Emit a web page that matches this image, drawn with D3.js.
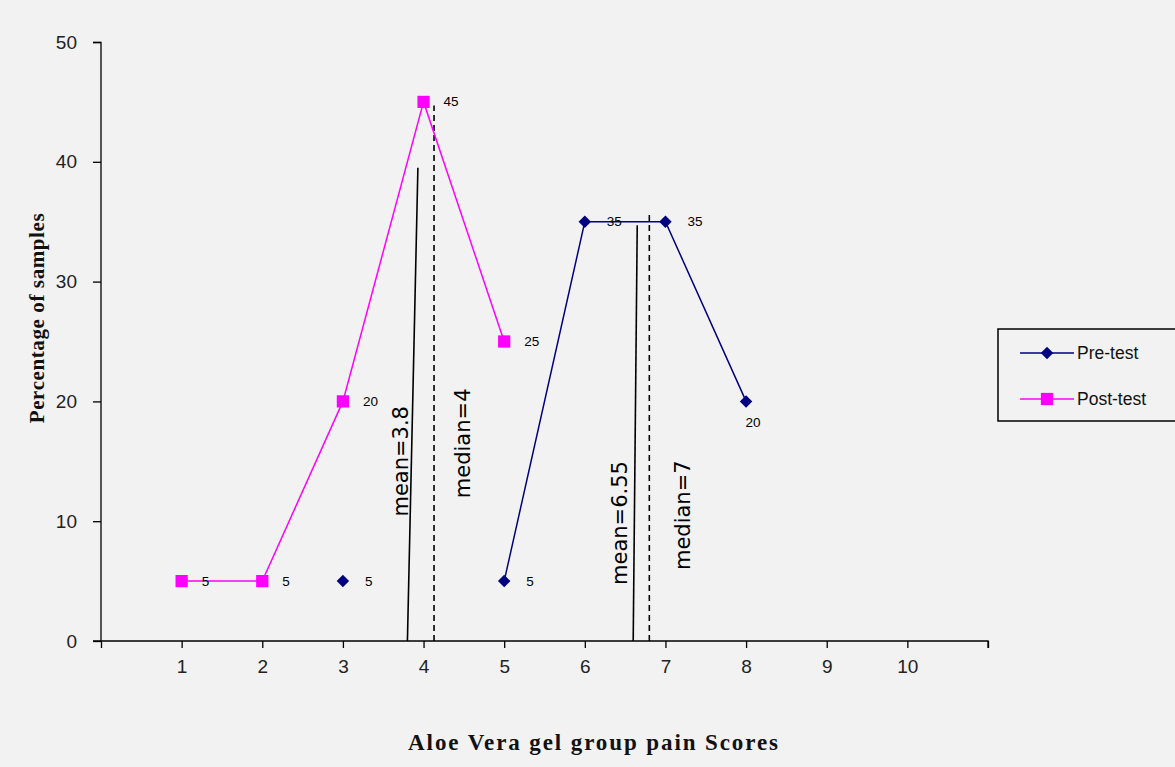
<!DOCTYPE html>
<html><head><meta charset="utf-8">
<script src="https://cdn.jsdelivr.net/npm/d3@7"></script>
<style>
html,body{margin:0;padding:0;background:#f2f2f2;}
svg{display:block;}
</style></head>
<body>
<svg id="c" width="1175" height="767"></svg>
<script>
// ---- data ----
const categories = [1,2,3,4,5,6,7,8,9,10];
const preTestX = [3,4,5,6,7,8];
const preTestY = [5,null,5,35,35,20];
const postTestX = [1,2,3,4,5];
const postTestY = [5,5,20,45,25];
const yTicks = [0,10,20,30,40,50];
const seriesNames = ["Pre-test","Post-test"];
const statLabels = ["mean=3.8","median=4","mean=6.55","median=7"];
const statBottomX = [3.8,4.13,6.6,6.8];
const statTopX = [3.93,4.13,6.65,6.8];
const statTopY = [39.5,44.7,34.7,35.7];
const statLabelX = [3.72,4.49,6.44,7.22];
const statLabelY = [15,16.5,9.85,10.5];
const xTitle = "Aloe Vera gel group pain Scores";
const yTitle = "Percentage of samples";

const svg = d3.select("#c");
svg.append("rect").attr("width",1175).attr("height",767).attr("fill","#f2f2f2");

const x = d3.scaleLinear().domain([0,11]).range([101,988]);
const y = d3.scaleLinear().domain([0,50]).range([641,42]);

// y axis
const ya = svg.append("g").attr("transform","translate(101,0)")
  .call(d3.axisLeft(y).tickValues(yTicks).tickSize(8).tickPadding(16));
ya.select(".domain").attr("stroke","#000").attr("stroke-width",1.3).attr("d","M-8,42.5H0V641");
ya.selectAll(".tick line").attr("stroke","#000").attr("stroke-width",1.3);
ya.selectAll(".tick text").attr("font-family","Liberation Sans, Arial, sans-serif").attr("font-size",19).attr("fill","#222");

// x axis
const xa = svg.append("g").attr("transform","translate(0,641)")
  .call(d3.axisBottom(x).tickValues(d3.range(0,12)).tickSize(7).tickPadding(12)
    .tickFormat(d => categories.includes(d) ? d : ""));
xa.select(".domain").attr("stroke","#000").attr("stroke-width",1.3).attr("d","M93,0H988V7");
xa.selectAll(".tick line").attr("stroke","#000").attr("stroke-width",1.3);
xa.selectAll(".tick text").attr("font-family","Liberation Sans, Arial, sans-serif").attr("font-size",19).attr("fill","#222");

// stat lines
statLabels.forEach((lab,i) => {
  const dashed = lab.startsWith("median");
  svg.append("line")
    .attr("x1",x(statBottomX[i])).attr("y1",y(0)).attr("x2",x(statTopX[i])).attr("y2",y(statTopY[i]))
    .attr("stroke", "#000").attr("stroke-width",1.6)
    .attr("stroke-dasharray", dashed ? "6,4" : null);
  svg.append("text")
    .attr("transform",`translate(${x(statLabelX[i])},${y(statLabelY[i])}) rotate(-90)`)
    .attr("text-anchor","middle").attr("dominant-baseline","central")
    .attr("font-family","DejaVu Sans, Verdana, sans-serif").attr("font-size",21).attr("fill","#000")
    .text(lab);
});

// series lines
const pre = preTestX.map((d,i)=>({x:d,y:preTestY[i]}));
const post = postTestX.map((d,i)=>({x:d,y:postTestY[i]}));
const line = d3.line().defined(d=>d.y!==null).x(d=>x(d.x)).y(d=>y(d.y));
svg.append("path").datum(post).attr("d",line).attr("fill","none").attr("stroke","#ff00ff").attr("stroke-width",1.5);
svg.append("path").datum(pre).attr("d",line).attr("fill","none").attr("stroke","#000080").attr("stroke-width",1.5);

const sq = d3.symbol().type(d3.symbolSquare).size(150);
const dm = d3.symbol().type(d3.symbolSquare).size(78);
svg.selectAll(".postm").data(post).join("path")
  .attr("transform",d=>`translate(${x(d.x)},${y(d.y)})`).attr("d",sq).attr("fill","#ff00ff");
svg.selectAll(".prem").data(pre.filter(d=>d.y!==null)).join("path")
  .attr("transform",d=>`translate(${x(d.x)},${y(d.y)}) rotate(45)`).attr("d",dm).attr("fill","#000080");

// data labels
const lblFont = "Liberation Sans, Arial, sans-serif";
post.forEach(d=>{
  svg.append("text").attr("x",x(d.x)+20).attr("y",y(d.y)).attr("dominant-baseline","central")
    .attr("font-family",lblFont).attr("font-size",13.5).attr("fill","#000").text(d.y);
});
pre.filter(d=>d.y!==null).forEach((d,i,arr)=>{
  const last = i===arr.length-1;
  svg.append("text").attr("x",last? x(d.x)+7 : x(d.x)+22).attr("y",last? y(d.y)+21 : y(d.y))
    .attr("text-anchor", last? "middle":"start")
    .attr("dominant-baseline","central")
    .attr("font-family",lblFont).attr("font-size",13.5).attr("fill","#000").text(d.y);
});

// titles
svg.append("text").attr("x",594).attr("y",750).attr("text-anchor","middle")
  .attr("font-family","Liberation Serif, Times New Roman, serif").attr("font-weight","bold")
  .attr("font-size",23).attr("letter-spacing",1.9).attr("fill","#111").text(xTitle);
svg.append("text").attr("transform","translate(44,318) rotate(-90)").attr("text-anchor","middle")
  .attr("font-family","Liberation Serif, Times New Roman, serif").attr("font-weight","bold")
  .attr("font-size",21).attr("letter-spacing",0.6).attr("fill","#111").text(yTitle);

// legend
const lg = svg.append("g");
lg.append("rect").attr("x",998).attr("y",329).attr("width",200).attr("height",92)
  .attr("fill","none").attr("stroke","#000").attr("stroke-width",1.5);
const legY = [353,399];
seriesNames.forEach((n,i)=>{
  const col = i===0 ? "#000080" : "#ff00ff";
  lg.append("line").attr("x1",1020).attr("x2",1074).attr("y1",legY[i]).attr("y2",legY[i]).attr("stroke",col).attr("stroke-width",1.5);
  lg.append("path").attr("transform",`translate(1047,${legY[i]})${i===0?" rotate(45)":""}`).attr("d", i===0?dm:sq).attr("fill",col);
  lg.append("text").attr("x",1077).attr("y",legY[i]).attr("dominant-baseline","central")
    .attr("font-family","Liberation Sans, Arial, sans-serif").attr("font-size",17.5).attr("fill","#111").text(n);
});
</script>
</body></html>
